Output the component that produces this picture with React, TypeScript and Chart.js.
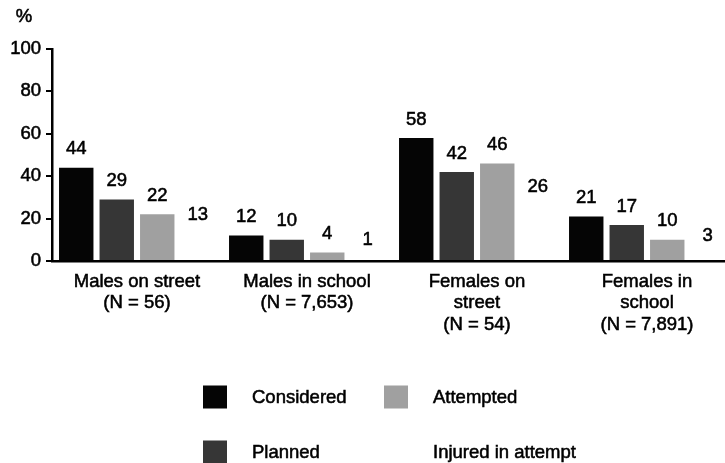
import React, { useEffect, useRef } from 'react';
import { Chart, registerables } from 'chart.js';

Chart.register(...registerables);

const categories: string[][] = [
  ['Males on street', '(N = 56)'],
  ['Males in school', '(N = 7,653)'],
  ['Females on', 'street', '(N = 54)'],
  ['Females in', 'school', '(N = 7,891)'],
];
const seriesNames = ['Considered', 'Planned', 'Attempted', 'Injured in attempt'];
const considered = [44, 12, 58, 21];
const planned = [29, 10, 42, 17];
const attempted = [22, 4, 46, 10];
const injured = [13, 1, 26, 3];
const yMin = 0;
const yMax = 100;
const yStep = 20;
const unitLabel = '%';

const FONT = '"Liberation Sans", Arial, Helvetica, sans-serif';
const FONT_SIZE = 18.5;
const STROKE = 0.55;
const colors = ['#050505', '#363636', '#a0a0a0', '#ffffff'];

function drawText(ctx: CanvasRenderingContext2D, text: string, x: number, y: number) {
  ctx.lineWidth = STROKE;
  ctx.strokeStyle = '#000';
  ctx.strokeText(text, x, y);
  ctx.fillText(text, x, y);
}

const valueLabels = {
  id: 'valueLabels',
  afterDatasetsDraw(chart: any) {
    const ctx = chart.ctx;
    ctx.save();
    ctx.font = `${FONT_SIZE}px ${FONT}`;
    ctx.fillStyle = '#000';
    ctx.textAlign = 'center';
    ctx.textBaseline = 'middle';
    chart.data.datasets.forEach((ds: any, i: number) => {
      const meta = chart.getDatasetMeta(i);
      meta.data.forEach((el: any, j: number) => {
        drawText(ctx, String(ds.data[j]), el.x, el.y - 18.5);
      });
    });
    ctx.restore();
  },
};

const extras = {
  id: 'extras',
  afterDraw(chart: any) {
    const ctx = chart.ctx;
    ctx.save();
    ctx.font = `${FONT_SIZE}px ${FONT}`;
    ctx.fillStyle = '#000';
    ctx.textAlign = 'center';
    ctx.textBaseline = 'middle';
    drawText(ctx, unitLabel, 24, 17);
    // legend in a 2x2 grid
    const cols = [203, 384];
    const rows = [397, 452];
    const order = [0, 2, 1, 3];
    order.forEach((dsIndex, k) => {
      const ds = chart.data.datasets[dsIndex];
      const col = k % 2;
      const row = Math.floor(k / 2);
      const bx = cols[col];
      const cy = rows[row];
      ctx.fillStyle = ds.backgroundColor;
      ctx.fillRect(bx, cy - 11.5, 24, 23);
      ctx.fillStyle = '#000';
      ctx.textAlign = 'left';
      drawText(ctx, ds.label, bx + 49, cy + 1);
    });
    ctx.restore();
  },
};

export default function App() {
  const ref = useRef<HTMLCanvasElement | null>(null);
  useEffect(() => {
    if (!ref.current) return;
    const seriesData = [considered, planned, attempted, injured];
    const chart = new Chart(ref.current, {
      type: 'bar',
      data: {
        labels: categories,
        datasets: seriesNames.map((name, i) => ({
          label: name,
          data: seriesData[i],
          backgroundColor: colors[i],
          borderWidth: 0,
          categoryPercentage: 0.953,
          barPercentage: 0.85,
        })),
      },
      options: {
        responsive: false,
        animation: false,
        devicePixelRatio: 1,
        layout: { padding: { top: 49, right: 8, left: 0, bottom: 0 } },
        plugins: {
          legend: { display: false },
          tooltip: { enabled: false },
          title: { display: false },
        },
        scales: {
          x: {
            grid: { display: false, drawTicks: false },
            border: { display: true, color: '#000', width: 2.5 },
            ticks: {
              color: '#000',
              font: { family: FONT, size: FONT_SIZE, lineHeight: 1.16 },
              padding: 10,
              maxRotation: 0,
              autoSkip: false,
              textStrokeColor: '#000',
              textStrokeWidth: STROKE,
            },
            afterFit: (scale: any) => {
              scale.height = 202;
            },
          },
          y: {
            min: yMin,
            max: yMax,
            grid: {
              display: true,
              drawOnChartArea: false,
              drawTicks: true,
              tickLength: 6,
              color: '#000',
              lineWidth: 2,
            },
            border: { display: true, color: '#000', width: 2.5 },
            ticks: {
              stepSize: yStep,
              color: '#000',
              font: { family: FONT, size: FONT_SIZE },
              padding: 5,
              textStrokeColor: '#000',
              textStrokeWidth: STROKE,
            },
            afterFit: (scale: any) => {
              scale.width = 52;
            },
          },
        },
      },
      plugins: [valueLabels, extras],
    });
    return () => chart.destroy();
  }, []);
  return (
    <div
      style={{
        position: 'fixed',
        left: 0,
        top: 0,
        width: 725,
        height: 463,
        overflow: 'hidden',
        background: '#fff',
      }}
    >
      <canvas ref={ref} width={740} height={463} style={{ display: 'block', width: 740, height: 463 }} />
    </div>
  );
}
